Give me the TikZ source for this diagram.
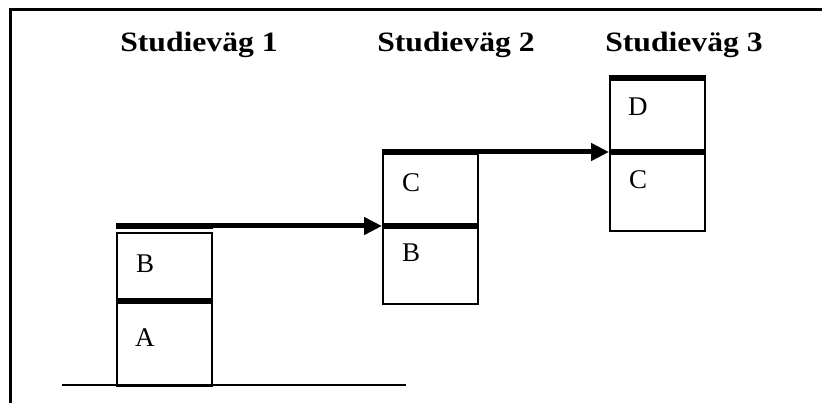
\documentclass[tikz,border=0pt]{standalone}
\usepackage{fontspec}
\setmainfont{Liberation Serif}
\newfontfamily\titlefont[FakeStretch=1.13]{Liberation Serif}
\usetikzlibrary{arrows.meta}
\begin{document}
\begin{tikzpicture}[x=1pt,y=-1pt,
  cell/.style={draw,line width=2pt,minimum width=95pt,inner sep=0pt,anchor=north west},
  bar/.style={line width=6pt},
  conn/.style={line width=5pt,-{Triangle[length=18pt,width=17pt]}},
  title/.style={font=\titlefont\bfseries\fontsize{28}{32}\selectfont,anchor=base,inner sep=0pt},
  letter/.style={font=\fontsize{27}{30}\selectfont,anchor=base west,inner sep=0pt}]
\useasboundingbox (0,0) rectangle (822,403);
\draw[line width=3pt] (10,403) -- (10,10) -- (822,10);
% titles
\node[title] (t1) at (199,52) {Studieväg 1};
\node[title] (t2) at (456,52) {Studieväg 2};
\node[title] (t3) at (684,52) {Studieväg 3};
% cells
\node[cell,minimum height=69pt] (b1u) at (116,232) {};
\node[cell,minimum height=84pt] (b1l) at (116,301) {};
\node[cell,minimum height=74pt] (b2u) at (382,152) {};
\node[cell,minimum height=77pt] (b2l) at (382,226) {};
\node[cell,minimum height=74pt] (b3u) at (609,78) {};
\node[cell,minimum height=78pt] (b3l) at (609,152) {};
% bars
\draw[bar] ([yshift=6pt]b1u.north west) -- ([yshift=6pt]b1u.north east);
\draw[bar] (b1l.north west) -- (b1l.north east);
\draw[bar] (b2u.north west) -- (b2u.north east);
\draw[bar] (b2l.north west) -- (b2l.north east);
\draw[bar] (b3u.north west) -- (b3u.north east);
\draw[bar] (b3l.north west) -- (b3l.north east);
% ground
\coordinate (g1) at (62,385);
\coordinate (g2) at (406,385);
\draw[line width=2pt] (g1) -- (g2);
% letters
\node[letter] (lB1) at (136,273) {B};
\node[letter] (lA1) at (135,346) {A};
\node[letter] (lC2) at (402,192) {C};
\node[letter] (lB2) at (402,262) {B};
\node[letter] (lD3) at (628,116) {D};
\node[letter] (lC3) at (629,189) {C};
% arrows
\draw[conn] ([yshift=6pt]b1u.north east) -- (b2l.north west);
\draw[conn] (b2u.north east) -- (b3l.north west);
\end{tikzpicture}
\end{document}
